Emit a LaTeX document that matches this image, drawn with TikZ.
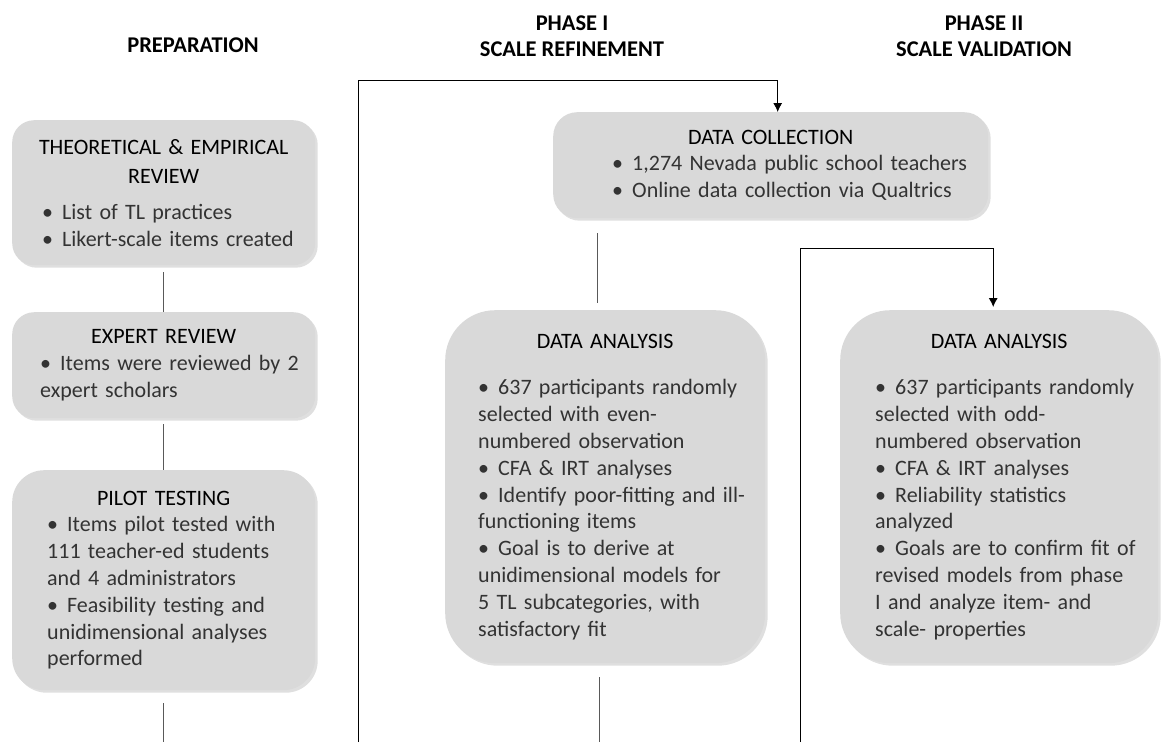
\documentclass[tikz,border=0pt]{standalone}
\usepackage{fontspec}
\setmainfont{Carlito}
\usetikzlibrary{arrows.meta}
\usetikzlibrary{shadows}

\newlength\bulskip
\newcommand\bul[1]{\par\raggedright\leftskip=\bulskip\hangindent=20pt\hangafter=1\noindent\makebox[20pt][l]{\textbullet}#1\par}
\newcommand\boxtitle[1]{{\centering\fontsize{22}{29.5}\selectfont\leavevmode\color{black}#1\par}}

\begin{document}
\begin{tikzpicture}[x=1pt,y=-1pt,
  stage/.style={fill=gray!30, inner sep=0pt, anchor=north west, text=black!80,
    font=\fontsize{22}{26.8}\selectfont,
    drop shadow={opacity=.25, shadow xshift=2.5pt, shadow yshift=-2.5pt}},
  bul indent/.style={execute at begin node={\setlength\bulskip{#1}}},
  head/.style={font=\bfseries\fontsize{22.5}{26}\selectfont, anchor=base, inner sep=0pt},
  link/.style={draw=black!65, line width=1.1pt},
  frame/.style={draw=black, line width=.9pt, -{Latex[length=9pt,width=9pt]}}]
\useasboundingbox (0,0) rectangle (1162,742);
% titres des colonnes
\node[head] (prep) at (193,52) {PREPARATION};
\node[head] (phaseone) at (572,30) {PHASE I};
\node[head] (refine) at (572,56) {SCALE REFINEMENT};
\node[head] (phasetwo) at (984,30) {PHASE II};
\node[head] (valid) at (984,56) {SCALE VALIDATION};

% preparation
\node[stage, bul indent=30pt, text width=303pt, minimum height=145pt, rounded corners=22pt] (theo) at (12,120) {%
  \boxtitle{THEORETICAL \& EMPIRICAL\\REVIEW}\vspace{9pt}
  \bul{List of TL practices}
  \bul{Likert-scale items created}};
\node[stage, bul indent=28pt, text width=303pt, minimum height=106pt, rounded corners=22pt] (expert) at (12,312) {%
  \boxtitle{EXPERT REVIEW}
  \bul{Items were reviewed by 2\\expert scholars}};
\node[stage, bul indent=35pt, text width=303pt, minimum height=220pt, rounded corners=32pt] (pilot) at (12,470) {%
  \boxtitle{PILOT TESTING}
  \bul{Items pilot tested with\\111 teacher-ed students\\and 4 administrators}
  \bul{Feasibility testing and\\unidimensional analyses\\performed}};

% phase I
\node[stage, bul indent=59pt, text width=435pt, minimum height=106pt, rounded corners=24pt] (collect) at (553,112) {%
  \boxtitle{DATA COLLECTION}
  \bul{1,274 Nevada public school teachers}
  \bul{Online data collection via Qualtrics}};
\node[stage, bul indent=33pt, text width=320pt, minimum height=353pt, rounded corners=50pt] (anaA) at (445,310) {%
  \boxtitle{DATA ANALYSIS}\vspace{20pt}
  \bul{637 participants randomly\\selected with even-\\numbered observation}
  \bul{CFA \& IRT analyses}
  \bul{Identify poor-fitting and ill-\\functioning items}
  \bul{Goal is to derive at\\unidimensional models for\\5 TL subcategories, with\\satisfactory fit}};

% phase II
\node[stage, bul indent=35pt, text width=318pt, minimum height=353pt, rounded corners=50pt] (anaB) at (840,310) {%
  \boxtitle{DATA ANALYSIS}\vspace{20pt}
  \bul{637 participants randomly\\selected with odd-\\numbered observation}
  \bul{CFA \& IRT analyses}
  \bul{Reliability statistics\\analyzed}
  \bul{Goals are to confirm fit of\\revised models from phase\\I and analyze item- and\\scale- properties}};

% liaisons
\coordinate (bot) at (0,742);
\coordinate (phaseA) at (358,742);
\coordinate (phaseB) at (800,742);
\draw[link, shorten <=7pt] (theo) -- (expert);
\draw[link, shorten <=6pt] (expert) -- (pilot);
\draw[link] ([yshift=-13pt]pilot.south) -- (pilot.south |- bot);
\draw[link, shorten <=15pt, shorten >=7pt] ([xshift=-8pt]collect.south -| anaA.north) -- ([xshift=-8pt]anaA.north);
\draw[link] ([xshift=-6pt,yshift=-14pt]anaA.south) -- ([xshift=-6pt]anaA.south |- bot);
\draw[frame] (phaseA) |- ([xshift=7pt,yshift=32pt]collect.north) -- ([xshift=7pt]collect.north);
\draw[frame, shorten >=3pt] (phaseB) |- ([xshift=-6pt,yshift=62pt]anaB.north) -- ([xshift=-6pt]anaB.north);
\end{tikzpicture}
\end{document}
